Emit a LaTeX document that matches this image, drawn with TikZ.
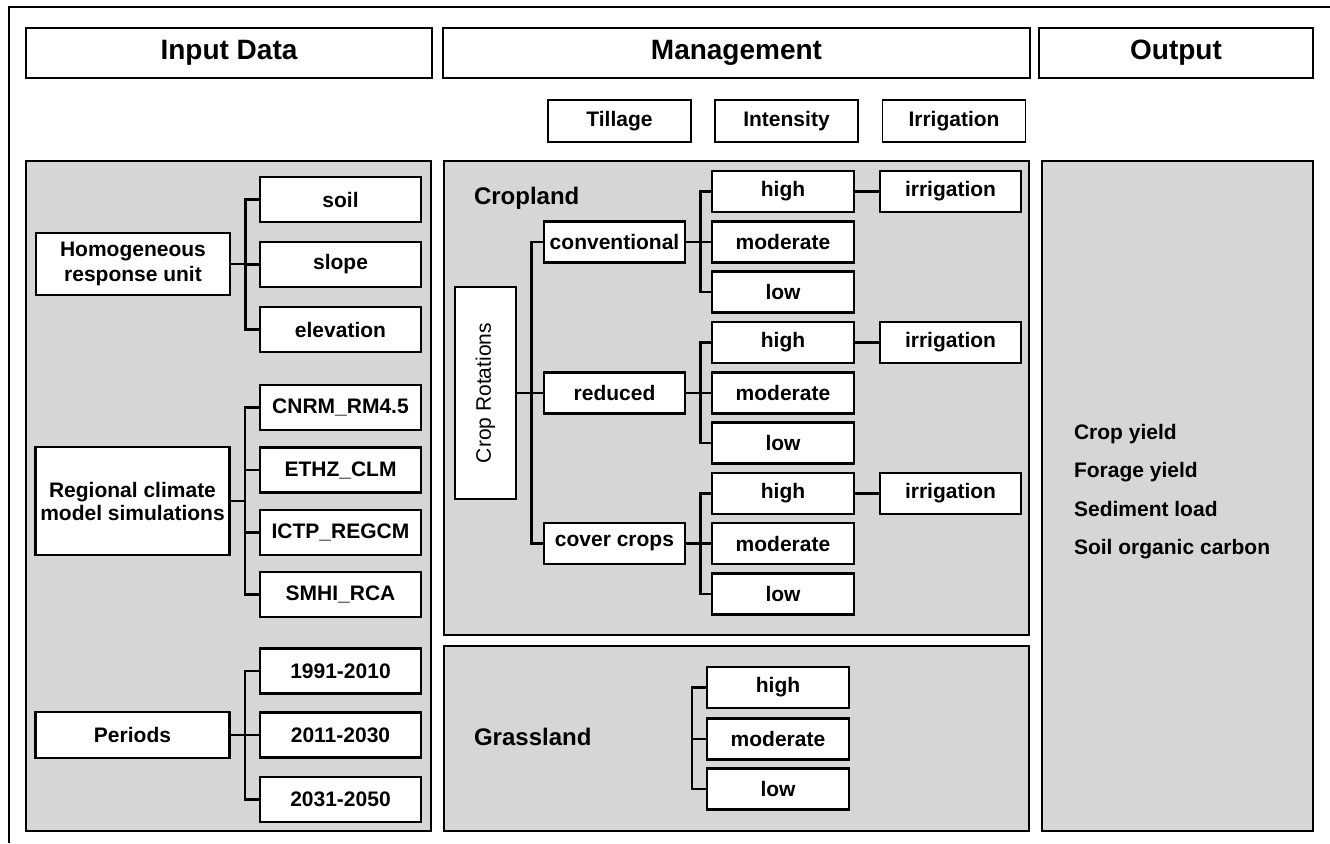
\documentclass[tikz,border=0pt]{standalone}
\usepackage{fontspec}
\setmainfont{Liberation Sans}
\usepackage{tikz}
\definecolor{panelgray}{RGB}{214,214,214}

\begin{document}
\begin{tikzpicture}[x=0.5pt,y=-0.5pt]
	
	\tikzset{head/.style = {draw, line width=0.9pt, inner sep=0pt, minimum height=25pt, font=\fontsize{14}{16}\selectfont\bfseries}}
	\tikzset{subhead/.style = {draw, line width=0.9pt, inner sep=0pt, minimum width=71.5pt, minimum height=21pt, font=\fontsize{10.5}{12.5}\selectfont\bfseries}}
	\tikzset{panel/.style = {draw, fill=panelgray, line width=1.3pt}}
	\tikzset{item/.style = {draw, fill=white, line width=1.3pt, inner sep=0pt, minimum width=80.5pt, minimum height=22.5pt, font=\fontsize{10.5}{12.5}\selectfont\bfseries}}
	\tikzset{group/.style = {item, minimum width=97pt, align=center}}
	\tikzset{rate/.style = {item, minimum width=71pt, minimum height=20.5pt}}
	\tikzset{landuse/.style = {anchor=base west, font=\fontsize{12}{14}\selectfont\bfseries}}
	\tikzset{result/.style = {anchor=base west, font=\fontsize{10.5}{12.5}\selectfont\bfseries}}
	\tikzset{forkline/.style = {line width=1.2pt, to path={-- ++(14,0) |- (\tikztotarget)}}}
	
	\useasboundingbox (0,0) rectangle (1330,843);
	\draw[line width=1pt] (9,843) -- (9,7) -- (1330,7);
	
	% headers
	\node[head, minimum width=203pt] (input) at (229,53) {Input Data};
	\node[head, minimum width=293.5pt] (mgmt) at (736.5,53) {Management};
	\node[head, minimum width=137pt] (output) at (1176,53) {Output};
	
	\node[subhead] (tillage) at (619.5,121) {Tillage};
	\node[subhead] (intensity) at (786.5,121) {Intensity};
	\node[subhead] (irrig) at (954,121) {Irrigation};
	
	% panels
	\draw[panel] (26,161) rectangle (431,831);
	\draw[panel] (444,161) rectangle (1029,635);
	\draw[panel] (444,646) rectangle (1029,831);
	\draw[panel] (1042,161) rectangle (1313,831);
	
	% input data
	\node[group, minimum height=31pt] (hru) at (133,264) {Homogeneous\\response unit};
	\node[item] (soil) at (340.5,199.5) {soil};
	\node[item] (slope) at (340.5,264.5) {slope};
	\node[item] (elev) at (340.5,329.5) {elevation};
	
	\node[group, minimum height=54pt, font=\fontsize{10.5}{11.5}\selectfont\bfseries] (rcm) at (132.5,501) {Regional climate\\model simulations};
	\node[item] (cnrm) at (340.5,407.5) {CNRM\_RM4.5};
	\node[item] (ethz) at (340.5,470) {ETHZ\_CLM};
	\node[item] (ictp) at (340.5,532.5) {ICTP\_REGCM};
	\node[item] (smhi) at (340.5,594.5) {SMHI\_RCA};
	
	\node[group, minimum height=23pt] (periods) at (132.5,735) {Periods};
	\node[item] (p1) at (340.5,671) {1991-2010};
	\node[item] (p2) at (340.5,735) {2011-2030};
	\node[item] (p3) at (340.5,799.5) {2031-2050};
	
	\draw[forkline] (hru.east) to (soil.west);
	\draw[forkline] (hru.east) to (slope.west);
	\draw[forkline] (hru.east) to (elev.west);
	\draw[forkline] (rcm.east) to (cnrm.west);
	\draw[forkline] (rcm.east) to (ethz.west);
	\draw[forkline] (rcm.east) to (ictp.west);
	\draw[forkline] (rcm.east) to (smhi.west);
	\draw[forkline] (periods.east) to (p1.west);
	\draw[forkline] (periods.east) to (p2.west);
	\draw[forkline] (periods.east) to (p3.west);
	
	% cropland
	\node[landuse] (cropland) at (467,204) {Cropland};
	\node[item, rotate=90, minimum width=106pt, minimum height=30.5pt, font=\fontsize{10.5}{12.5}\selectfont\mdseries] (rot) at (485.5,393) {Crop Rotations};
	\node[item, minimum width=70.5pt, minimum height=20.5pt] (conv) at (614.5,242) {conventional};
	\node[item, minimum width=70.5pt, minimum height=20.5pt] (red) at (614.5,393) {reduced};
	\node[item, minimum width=70.5pt, minimum height=20.5pt] (cover) at (614.5,543.5) {cover crops};
	
	\node[rate] (c1high) at (783,191.5) {high};
	\node[rate] (c1mod) at (783,242) {moderate};
	\node[rate] (c1low) at (783,292) {low};
	\node[rate] (c2high) at (783,342.5) {high};
	\node[rate] (c2mod) at (783,393) {moderate};
	\node[rate] (c2low) at (783,443) {low};
	\node[rate] (c3high) at (783,493.5) {high};
	\node[rate] (c3mod) at (783,543.5) {moderate};
	\node[rate] (c3low) at (783,594) {low};
	
	\node[rate, minimum width=70.5pt] (c1irr) at (950.5,191.5) {irrigation};
	\node[rate, minimum width=70.5pt] (c2irr) at (950.5,342.5) {irrigation};
	\node[rate, minimum width=70.5pt] (c3irr) at (950.5,493.5) {irrigation};
	
	\draw[forkline] (rot.south) to (conv.west);
	\draw[forkline] (rot.south) to (red.west);
	\draw[forkline] (rot.south) to (cover.west);
	\draw[forkline] (conv.east) to (c1high.west);
	\draw[forkline] (conv.east) to (c1mod.west);
	\draw[forkline] (conv.east) to (c1low.west);
	\draw[forkline] (red.east) to (c2high.west);
	\draw[forkline] (red.east) to (c2mod.west);
	\draw[forkline] (red.east) to (c2low.west);
	\draw[forkline] (cover.east) to (c3high.west);
	\draw[forkline] (cover.east) to (c3mod.west);
	\draw[forkline] (cover.east) to (c3low.west);
	\draw[line width=1.2pt] (c1high) -- (c1irr);
	\draw[line width=1.2pt] (c2high) -- (c2irr);
	\draw[line width=1.2pt] (c3high) -- (c3irr);
	
	% grassland
	\node[landuse] (grassland) at (467,745) {Grassland};
	\node[rate] (ghigh) at (778,687.5) {high};
	\node[rate] (gmod) at (778,739) {moderate};
	\node[rate] (glow) at (778,789) {low};
	\draw[line width=1.2pt] (ghigh.west) -- ++(-14,0) |- (glow.west);
	\draw[line width=1.2pt] (gmod.west) -- ++(-14,0);
	
	% output
	\node[result] (cyield) at (1067,439) {Crop yield};
	\node[result] (fyield) at (1067,477.5) {Forage yield};
	\node[result] (sediment) at (1067,516) {Sediment load};
	\node[result] (soc) at (1067,554.5) {Soil organic carbon};
	\end{tikzpicture}
\end{document}
